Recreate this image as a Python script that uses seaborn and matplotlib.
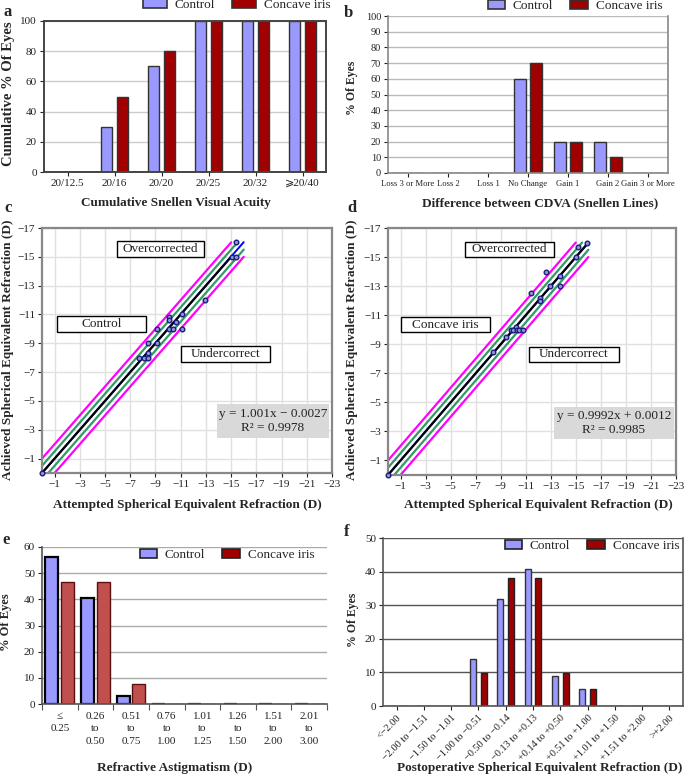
import numpy as np
import pandas as pd
import matplotlib
matplotlib.use('Agg')
import matplotlib.pyplot as plt
import seaborn as sns
from matplotlib.patches import Rectangle, Patch

sns.set_theme(style='white')
plt.rcParams['font.family'] = ['Liberation Serif', 'DejaVu Serif', 'DejaVu Sans']
plt.rcParams['axes.unicode_minus'] = True

# ---------------- data ----------------
groups = ['Control', 'Concave iris']

a_cats = ['20/12.5', '20/16', '20/20', '20/25', '20/32', '⩾20/40']
a_control = [0, 30, 70, 100, 100, 100]
a_concave = [0, 50, 80, 100, 100, 100]

b_cats = ['Loss 3 or More', 'Loss 2', 'Loss 1', 'No Change', 'Gain 1', 'Gain 2', 'Gain 3 or More']
b_control = [0, 0, 0, 60, 20, 20, 0]
b_concave = [0, 0, 0, 70, 20, 10, 0]

c_attempted = [0, -15.4, -15.1, -15.4, -12.9, -10.1, -10.1, -11.1, -10.6, -9.1, -10.1, -10.4, -11.1,
               -8.4, -9.1, -8.4, -7.7, -8.1, -8.4]
c_achieved = [0, -16.0, -15.0, -15.0, -12.0, -10.8, -10.6, -11.0, -10.5, -10.0, -10.0, -10.0, -10.0,
              -9.0, -9.0, -8.3, -8.0, -8.0, -8.0]

d_attempted = [0, -15.9, -15.2, -15.0, -12.6, -13.7, -12.9, -13.7, -11.4, -12.1, -12.1, -10.2, -9.8,
               -10.0, -10.3, -10.5, -10.8, -9.4, -8.4]
d_achieved = [0, -16.0, -15.7, -15.0, -14.0, -13.7, -13.0, -13.0, -12.5, -12.2, -12.0, -10.2, -10.0,
              -10.0, -10.0, -10.0, -10.0, -9.5, -8.5]

c_fit = (1.001, -0.0027)
d_fit = (0.9992, 0.0012)
c_eq = 'y = 1.001x − 0.0027\nR² = 0.9978'
d_eq = 'y = 0.9992x + 0.0012\nR² = 0.9985'

e_cats = ['≤\n0.25', '0.26\nto\n0.50', '0.51\nto\n0.75', '0.76\nto\n1.00',
          '1.01\nto\n1.25', '1.26\nto\n1.50', '1.51\nto\n2.00', '2.01\nto\n3.00']
e_control = [56.3, 40.7, 3.1, 0, 0, 0, 0, 0]
e_concave = [46.5, 46.5, 7.8, 0, 0, 0, 0, 0]

f_cats = ['<−2.00', '−2.00 to −1.51', '−1.50 to −1.01', '−1.00 to −0.51', '−0.50 to −0.14',
          '−0.13 to +0.13', '+0.14 to +0.50', '+0.51 to +1.00', '+1.01 to +1.50',
          '+1.51 to +2.00', '>+2.00']
f_control = [0, 0, 0, 13.9, 31.9, 40.9, 8.9, 5.0, 0, 0, 0]
f_concave = [0, 0, 0, 9.9, 38.0, 38.0, 9.9, 5.0, 0, 0, 0]

# ---------------- layout helpers ----------------
W, H = 685, 777
fig = plt.figure(figsize=(W / 100, H / 100), dpi=100)

CONTROL = '#9999ff'
CONCAVE = '#a00000'
CONCAVE_E = '#c0504d'


def px_axes(x0, y0, x1, y1):
    return fig.add_axes([x0 / W, 1 - y1 / H, (x1 - x0) / W, (y1 - y0) / H])


def ftext(x, y, s, **kw):
    return fig.text(x / W, 1 - y / H, s, **kw)


def box(x0, y0, x1, y1, text, fc='white', ec='black', fs=9.5, lw=1.0):
    fig.add_artist(Rectangle((x0 / W, 1 - y1 / H), (x1 - x0) / W, (y1 - y0) / H,
                             transform=fig.transFigure, facecolor=fc, edgecolor=ec, linewidth=lw))
    ftext((x0 + x1) / 2, (y0 + y1) / 2, text, ha='center', va='center', fontsize=fs,
          linespacing=1.2, color='#222')


def bars(ax, cats, ctrl, conc, width, gap, colors, edges, lws):
    df = pd.DataFrame({'cat': cats + cats,
                       'val': list(ctrl) + list(conc),
                       'grp': [groups[0]] * len(cats) + [groups[1]] * len(cats)})
    sns.barplot(data=df, x='cat', y='val', hue='grp', order=cats, hue_order=groups,
                palette=colors, width=width, gap=gap, ax=ax, legend=False, saturation=1)
    for cont, ec, lw in zip(ax.containers, edges, lws):
        for p in cont:
            p.set_edgecolor(ec)
            p.set_linewidth(lw)
    ax.set_xlabel('')
    ax.set_ylabel('')


def legend(ax, cx, cy, colors, edges, fs=9.5, hl=1.8):
    handles = [Patch(facecolor=c, edgecolor=e, linewidth=1.2) for c, e in zip(colors, edges)]
    ax.legend(handles, groups, loc='center', bbox_to_anchor=(cx / W, 1 - cy / H),
              bbox_transform=fig.transFigure, ncol=2, frameon=False, fontsize=fs,
              handlelength=hl, handleheight=0.75, handletextpad=0.6, columnspacing=1.3,
              borderpad=0, borderaxespad=0)


def style_ticks(ax, fs=7.5):
    ax.tick_params(axis='both', labelsize=fs, colors='#222', length=3, width=0.8,
                   direction='out', bottom=True, left=True, pad=2)


# ---------------- panel a ----------------
ax = px_axes(44, 21, 326, 172)
bars(ax, a_cats, a_control, a_concave, 0.72, 0.35, [CONTROL, CONCAVE], ['#333', '#333'], [1, 1])
ax.set_ylim(0, 100)
ax.set_yticks(range(0, 101, 20))
ax.yaxis.grid(True, color='#cccccc', linewidth=1)
ax.set_axisbelow(True)
for s in ax.spines.values():
    s.set_color('#444'); s.set_linewidth(1.4)
style_ticks(ax, 8)
legend(ax, 237, 5, [CONTROL, CONCAVE], ['#333', '#333'])
ftext(8, 12, 'a', fontsize=12, fontweight='bold', ha='center', va='center')
ftext(176, 203, 'Cumulative Snellen Visual Acuity', fontsize=9.5, fontweight='bold', ha='center', va='center')
ftext(9, 94, 'Cumulative % Of Eyes', fontsize=10.5, fontweight='bold', rotation=90, ha='center', va='center')

# ---------------- panel b ----------------
ax = px_axes(388, 16, 668, 173)
bars(ax, b_cats, b_control, b_concave, 0.84, 0.29, [CONTROL, CONCAVE], ['#333', '#333'], [1, 1])
ax.set_ylim(0, 100)
ax.set_yticks(range(0, 101, 10))
ax.yaxis.grid(True, color='#bbbbbb', linewidth=1)
ax.set_axisbelow(True)
for s in ax.spines.values():
    s.set_color('#888'); s.set_linewidth(1.2)
ax.spines['top'].set_visible(False)
style_ticks(ax, 7.5)
ax.tick_params(axis='x', labelsize=6.2)
legend(ax, 575, 6, [CONTROL, CONCAVE], ['#333', '#333'], hl=1.3)
ftext(348, 13, 'b', fontsize=12, fontweight='bold', ha='center', va='center')
ftext(540, 203, 'Difference between CDVA (Snellen Lines)', fontsize=9.5, fontweight='bold', ha='center', va='center')
ftext(352, 88, '% Of Eyes', fontsize=8.5, fontweight='bold', rotation=90, ha='center', va='center')

# ---------------- panels c, d ----------------
ref_offsets = [-1.0, -0.5, 0.5, 1.0]
ref_colors = ['#ff00ff', '#339966', '#339966', '#ff00ff']
line_max = -16.0


def scatter_panel(ax, att, ach, fit, black_end):
    ax.set_xlim(0, -23)
    ax.set_ylim(0, -17)
    ax.set_xticks(np.arange(-1, -24, -2))
    ax.set_yticks(np.arange(-1, -18, -2))
    ax.grid(True, color='#e0e0e0', linewidth=1)
    ax.set_axisbelow(True)
    for s in ax.spines.values():
        s.set_color('#888'); s.set_linewidth(1.6)
    style_ticks(ax, 8)
    for o, col in zip(ref_offsets, ref_colors):
        xs = np.array([-max(o, 0), line_max - min(o, 0)])
        ax.plot(xs, xs + o, color=col, linewidth=1.6, zorder=2)
    xs = np.array([0, line_max])
    ax.plot(xs, fit[0] * xs + fit[1], color='#0000ff', linewidth=1.4, zorder=2)
    xs = np.array([0, black_end])
    ax.plot(xs, xs, color='black', linewidth=1.6, zorder=3)
    sns.scatterplot(x=att, y=ach, ax=ax, marker='o', s=11, color='#8f98cc',
                    edgecolor='#1c1c80', linewidth=1.0, zorder=4, legend=False, clip_on=False)
    ax.set_xlabel(''); ax.set_ylabel('')


ax = px_axes(42, 228, 332, 473)
scatter_panel(ax, c_attempted, c_achieved, c_fit, -15.0)
box(117, 241, 204, 257, 'Overcorrected')
box(57, 316, 146, 332, 'Control')
box(181, 346, 270, 362, 'Undercorrect')
box(217, 404, 329, 438, c_eq, fc='#d9d9d9', ec='none')
ftext(8, 208, 'c', fontsize=12, fontweight='bold', ha='center', va='center')
ftext(187, 505, 'Attempted Spherical Equivalent Refraction (D)', fontsize=9.5, fontweight='bold', ha='center', va='center')
ftext(8, 350, 'Achieved Spherical Equivalent Refraction (D)', fontsize=9.5, fontweight='bold', rotation=90, ha='center', va='center')

ax = px_axes(388, 228, 676, 475)
scatter_panel(ax, d_attempted, d_achieved, d_fit, -16.0)
box(465, 242, 554, 257, 'Overcorrected')
box(401, 317, 490, 332, 'Concave iris')
box(529, 347, 619, 362, 'Undercorrect')
box(554, 407, 674, 439, d_eq, fc='#d9d9d9', ec='none')
ftext(352, 208, 'd', fontsize=12, fontweight='bold', ha='center', va='center')
ftext(538, 505, 'Attempted Spherical Equivalent Refraction (D)', fontsize=9.5, fontweight='bold', ha='center', va='center')
ftext(352, 350, 'Achieved Spherical Equivalent Refraction (D)', fontsize=9.5, fontweight='bold', rotation=90, ha='center', va='center')

# ---------------- panel e ----------------
ax = px_axes(42, 547, 327, 704)
bars(ax, e_cats, e_control, e_concave, 0.88, 0.17, [CONTROL, CONCAVE_E], ['black', '#5a1010'], [1.6, 1.0])
ax.set_ylim(0, 60)
ax.set_yticks(range(0, 61, 10))
ax.set_xlim(-0.5, len(e_cats) - 0.5)
ax.yaxis.grid(True, color='#aaaaaa', linewidth=1)
ax.set_axisbelow(True)
for k in ['top', 'right']:
    ax.spines[k].set_visible(False)
for k in ['left', 'bottom']:
    ax.spines[k].set_color('#555'); ax.spines[k].set_linewidth(1.2)
style_ticks(ax, 8)
ax.tick_params(axis='x', length=0, pad=6)
for t in ax.get_xticklabels():
    t.set_linespacing(1.45)
ax.set_xticks(np.arange(-0.5, len(e_cats), 1), minor=True)
ax.tick_params(axis='x', which='minor', length=4, width=0.8, color='#555', bottom=True)
legend(ax, 227, 555, [CONTROL, CONCAVE], ['#222', '#222'], hl=1.3)
ftext(6, 540, 'e', fontsize=12, fontweight='bold', ha='center', va='center')
ftext(175, 768, 'Refractive Astigmatism (D)', fontsize=9.5, fontweight='bold', ha='center', va='center')
ftext(6, 622, '% Of Eyes', fontsize=9, fontweight='bold', rotation=90, ha='center', va='center')

# ---------------- panel f ----------------
ax = px_axes(383, 538, 683, 706)
bars(ax, f_cats, f_control, f_concave, 0.78, 0.44, [CONTROL, CONCAVE], ['#333', '#222'], [1, 1])
ax.set_ylim(0, 50)
ax.set_yticks(range(0, 51, 10))
ax.yaxis.grid(True, color='#555555', linewidth=1)
ax.set_axisbelow(True)
ax.spines['top'].set_visible(False)
for k in ['left', 'bottom', 'right']:
    ax.spines[k].set_color('#555'); ax.spines[k].set_linewidth(1.2)
style_ticks(ax, 8)
ax.tick_params(axis='x', labelsize=7.4)
plt.setp(ax.get_xticklabels(), rotation=45, ha='right', rotation_mode='anchor')
legend(ax, 592, 546, [CONTROL, CONCAVE], ['#222', '#222'], hl=1.3)
ftext(347, 532, 'f', fontsize=12, fontweight='bold', ha='center', va='center')
ftext(540, 768, 'Postoperative Spherical Equivalent Refraction (D)', fontsize=9.5, fontweight='bold', ha='center', va='center')
ftext(353, 620, '% Of Eyes', fontsize=8.5, fontweight='bold', rotation=90, ha='center', va='center')

fig.savefig('out.png', dpi=100, facecolor='white')
